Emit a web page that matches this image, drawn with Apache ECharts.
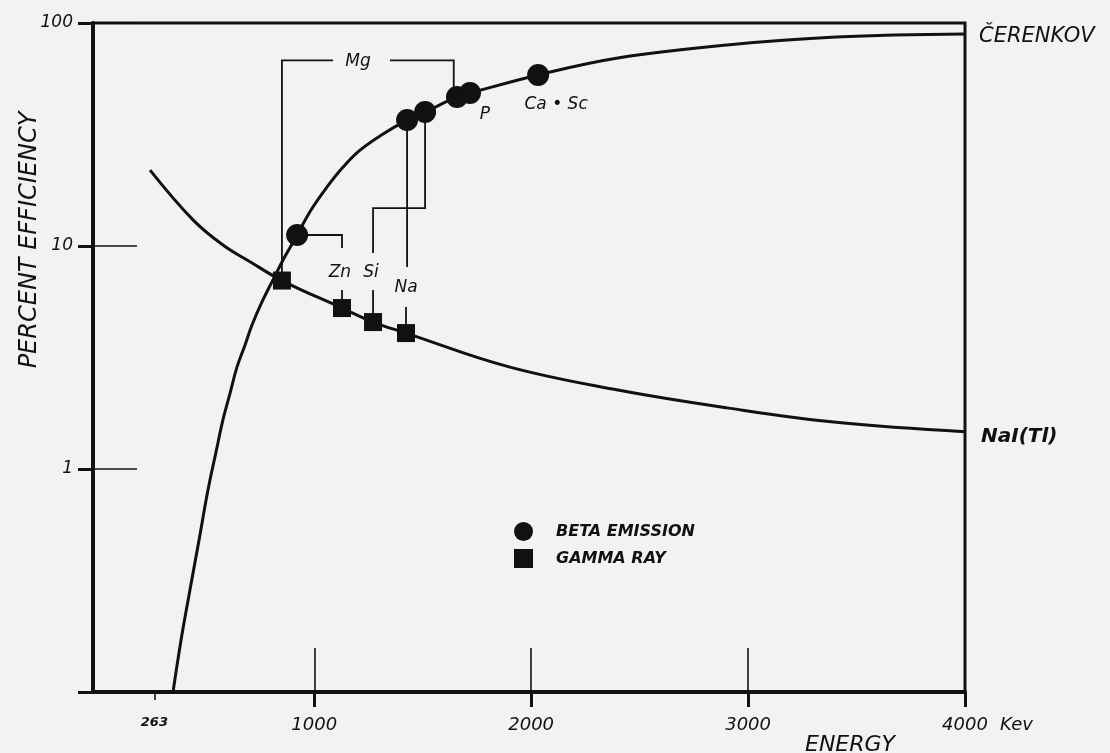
<!DOCTYPE html>
<html>
<head>
<meta charset="utf-8">
<title>Percent efficiency vs energy</title>
<script src="https://cdn.jsdelivr.net/npm/echarts@6.0.0/dist/echarts.min.js"></script>
<style>
  html, body {margin: 0; padding: 0; background: #f2f2f2;}
  #chart {width: 1110px; height: 753px;}
</style>
</head>
<body>
<div id="chart"></div>
<script>
// values (energy in keV, efficiency in %)
const cerenkovE = [349, 386, 427, 469, 510, 547, 579, 612, 644, 681, 713, 759, 805, 861, 921, 985, 1059, 1133, 1211, 1317,
  1428, 1511, 1658, 1718, 2032, 2400, 2903, 3406, 4000];
const cerenkovEff = [0.1, 0.171, 0.287, 0.481, 0.805, 1.19, 1.66, 2.19, 2.87, 3.6, 4.42, 5.61, 6.9, 8.83, 11.2, 14.5, 18.4, 22.6, 26.9, 31.8,
  36.7, 39.9, 46.6, 48.5, 58.5, 69.7, 79.7, 86.5, 89.3];
const naiE = [243, 441, 579, 704, 851, 1128, 1271, 1423, 1898, 2400, 2903, 3406, 4000];
const naiEff = [21.9, 13.1, 10.1, 8.5, 7.0, 5.27, 4.56, 4.07, 2.87, 2.26, 1.88, 1.62, 1.47];

const betaE = [921, 1428, 1511, 1658, 1718, 2032];
const betaEff = [11.2, 36.7, 39.9, 46.6, 48.5, 58.5];
const gammaE = [851, 1128, 1271, 1423];
const gammaEff = [7.0, 5.27, 4.56, 4.07];

const xTickLabels = [263, 1000, 2000, 3000, 4000];
const yTickLabels = [1, 10, 100];

// element labels and their leader lines
const noteText = ['Mg', 'Zn', 'Si', 'Na', 'P', 'Ca • Sc'];
const noteE = [1202, 1118, 1262, 1423, 1787, 2115];
const noteEff = [67, 7.57, 7.57, 6.48, 38.7, 42.9];

const mgLevel = 68;
const leaders = [
  [[gammaE[0], gammaEff[0]], [gammaE[0], mgLevel], [1086, mgLevel]],
  [[1349, mgLevel], [betaE[3] - 15, mgLevel], [betaE[3] - 15, betaEff[3]]],
  [[betaE[0], betaEff[0]], [gammaE[1], betaEff[0]], [gammaE[1], 9.8]],
  [[gammaE[1], 6.35], [gammaE[1], gammaEff[1]]],
  [[gammaE[2], 9.3], [gammaE[2], 14.8], [betaE[2], 14.8], [betaE[2], betaEff[2]]],
  [[gammaE[2], 6.35], [gammaE[2], gammaEff[2]]],
  [[betaE[1], betaEff[1]], [betaE[1], 8.05]],
  [[gammaE[3], 5.33], [gammaE[3], gammaEff[3]]]
];

const ink = '#111';
const font = 'DejaVu Sans';

function pairs(xs, ys) {
  return xs.map((x, i) => [x, ys[i]]);
}

const chart = echarts.init(document.getElementById('chart'), null, {renderer: 'canvas'});

const option = {
  backgroundColor: '#f2f2f2',
  animation: false,
  grid: {
    left: 93, right: 145, top: 23, bottom: 61,
    outerBoundsMode: 'none',
    show: true, borderColor: ink, borderWidth: 3
  },
  legend: {
    orient: 'vertical',
    left: 509, top: 517,
    itemWidth: 19, itemHeight: 19, itemGap: 8,
    data: [
      {name: 'BETA EMISSION', icon: 'circle'},
      {name: 'GAMMA RAY', icon: 'rect'}
    ],
    textStyle: {
      color: ink, fontFamily: font, fontSize: 16, fontStyle: 'italic', fontWeight: 'bold',
      padding: [0, 0, 0, 18]
    }
  },
  xAxis: [
    {
      type: 'value', min: -20, max: 4000, position: 'bottom',
      axisLine: {show: true, onZero: false, lineStyle: {color: ink, width: 4}},
      axisTick: {show: true, customValues: [1000, 2000, 3000, 4000], length: 15, lineStyle: {color: ink, width: 3}},
      axisLabel: {
        show: true, customValues: xTickLabels, margin: 24,
        color: ink, fontFamily: font, fontSize: 18, fontStyle: 'italic',
        formatter: v => v === 263 ? '{s|263}' : String(v),
        rich: {s: {fontFamily: font, fontSize: 13, fontStyle: 'italic', fontWeight: 'bold', color: ink}}
      },
      splitLine: {show: false}
    },
    {
      type: 'value', min: -20, max: 4000, position: 'bottom',
      axisLine: {show: false, onZero: false},
      axisTick: {show: true, inside: true, customValues: [1000, 2000, 3000], length: 44, lineStyle: {color: ink, width: 1.6}},
      axisLabel: {show: false},
      splitLine: {show: false}
    },
    {
      type: 'value', min: -20, max: 4000, position: 'bottom',
      axisLine: {show: false, onZero: false},
      axisTick: {show: true, customValues: [263], length: 8, lineStyle: {color: ink, width: 1.6}},
      axisLabel: {show: false},
      splitLine: {show: false}
    }
  ],
  yAxis: [
    {
      type: 'log', logBase: 10, min: 0.1, max: 100, position: 'left',
      axisLine: {show: true, onZero: false, lineStyle: {color: ink, width: 4}},
      axisTick: {show: true, inside: true, length: 44, lineStyle: {color: ink, width: 1.6}},
      axisLabel: {show: false},
      splitLine: {show: false}
    },
    {
      type: 'log', logBase: 10, min: 0.1, max: 100, position: 'left',
      axisLine: {show: false, onZero: false},
      axisTick: {show: true, length: 15, lineStyle: {color: ink, width: 3}},
      axisLabel: {
        show: true, margin: 20,
        color: ink, fontFamily: font, fontSize: 17, fontStyle: 'italic',
        formatter: v => {
          const r = Math.round(v);
          return yTickLabels.indexOf(r) >= 0 && Math.abs(v - r) < 1e-6 ? String(r) : '';
        }
      },
      splitLine: {show: false}
    }
  ],
  graphic: [
    {
      type: 'text', x: 30, y: 240, rotation: Math.PI / 2,
      style: {text: 'PERCENT EFFICIENCY', fill: ink, font: 'italic 24px "DejaVu Sans"', align: 'center', verticalAlign: 'middle'}
    },
    {
      type: 'text', x: 850, y: 745,
      style: {text: 'ENERGY', fill: ink, font: 'italic 22px "DejaVu Sans"', align: 'center', verticalAlign: 'middle'}
    },
    {
      type: 'text', x: 1000, y: 725,
      style: {text: 'Kev', fill: ink, font: 'italic 18px "DejaVu Sans"', align: 'left', verticalAlign: 'middle'}
    }
  ],
  series: [
    {
      name: 'ČERENKOV', type: 'line', smooth: 0.4,
      showSymbol: false, symbol: 'none', clip: true,
      lineStyle: {color: ink, width: 3},
      data: pairs(cerenkovE, cerenkovEff),
      endLabel: {
        show: true, formatter: 'ČERENKOV', distance: 14, offset: [0, 3],
        color: ink, fontFamily: font, fontSize: 21, fontStyle: 'italic'
      },
      z: 3
    },
    {
      name: 'NaI(Tl)', type: 'line', smooth: 0.4,
      showSymbol: false, symbol: 'none',
      lineStyle: {color: ink, width: 3},
      data: pairs(naiE, naiEff),
      endLabel: {
        show: true, formatter: 'NaI(Tl)', distance: 16, offset: [0, 5],
        color: ink, fontFamily: font, fontSize: 20, fontStyle: 'italic', fontWeight: 'bold'
      },
      z: 3
    },
    {
      name: 'leaders', type: 'lines', coordinateSystem: 'cartesian2d', polyline: true,
      silent: true,
      lineStyle: {color: ink, width: 1.8, opacity: 1},
      data: leaders.map(c => ({coords: c})),
      z: 2
    },
    {
      name: 'BETA EMISSION', type: 'scatter', symbol: 'circle', symbolSize: 22,
      itemStyle: {color: ink, opacity: 1},
      data: pairs(betaE, betaEff),
      z: 5
    },
    {
      name: 'GAMMA RAY', type: 'scatter', symbol: 'rect', symbolSize: 18,
      itemStyle: {color: ink, opacity: 1},
      data: pairs(gammaE, gammaEff),
      z: 5
    },
    {
      name: 'notes', type: 'scatter', symbolSize: 0, silent: true,
      itemStyle: {opacity: 1},
      data: noteE.map((e, i) => ({name: noteText[i], value: [e, noteEff[i]]})),
      label: {
        show: true, position: 'inside', formatter: '{b}', opacity: 1,
        color: ink, fontFamily: font, fontSize: 17, fontStyle: 'italic'
      },
      z: 6
    }
  ]
};

chart.setOption(option);
</script>
</body>
</html>
